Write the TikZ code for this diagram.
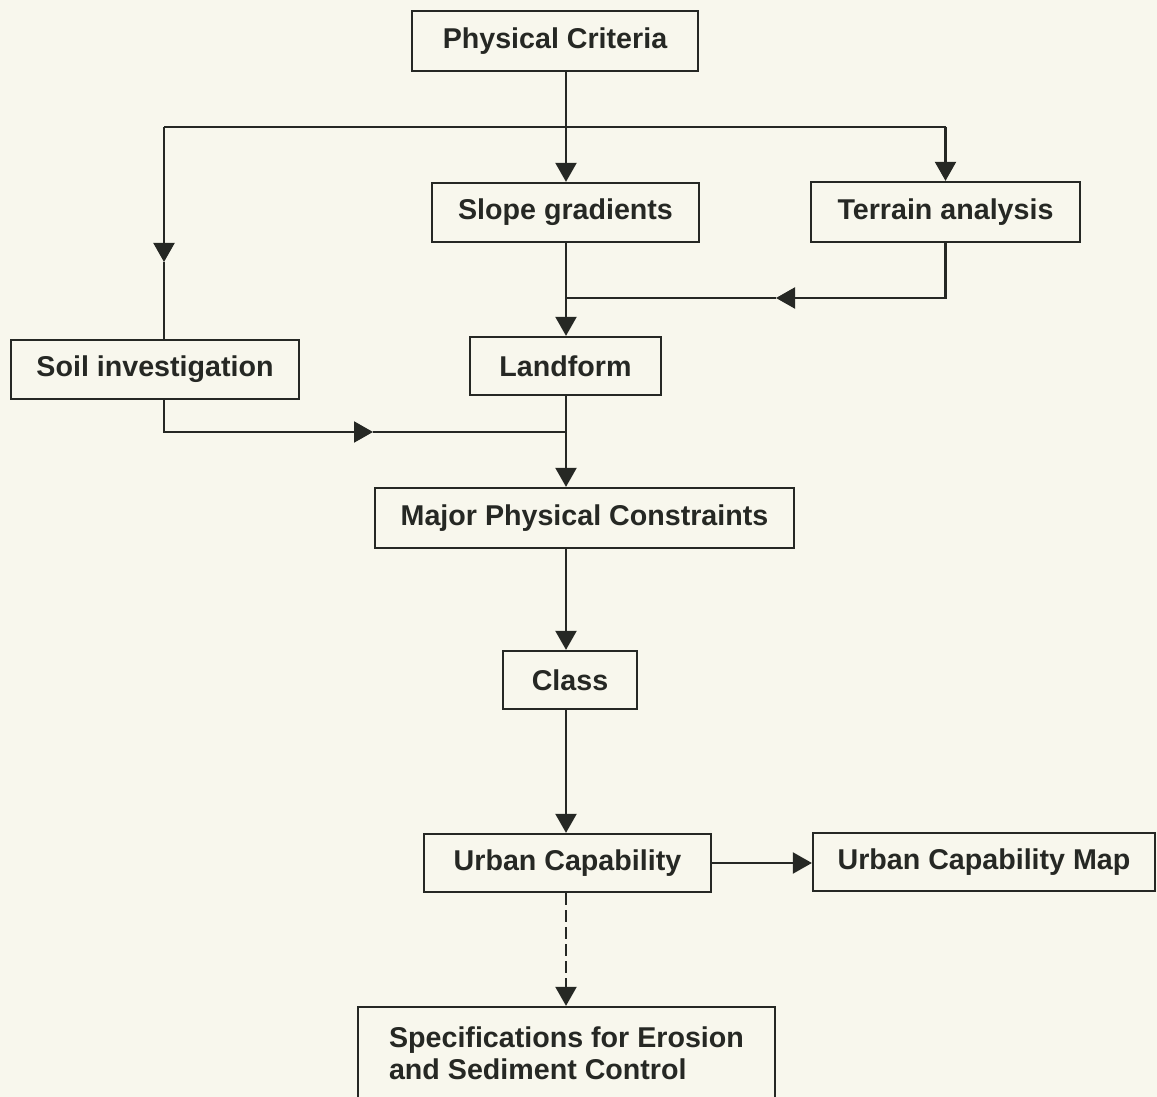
\documentclass[tikz,border=0pt]{standalone}
\usepackage{fontspec}
\setmainfont{Liberation Sans}
\usepackage{tikz}
\usetikzlibrary{positioning,arrows.meta,calc}
\usepackage{xcolor}
\definecolor{paper}{RGB}{248,247,237}
\definecolor{ink}{RGB}{38,40,36}

\begin{document}
\begin{tikzpicture}[x=0.02cm, y=-0.02cm, >={Triangle[length=0.38cm, width=0.42cm]},
    box/.style={draw=ink, line width=1.3pt, text=ink, minimum height=1.16cm,
      inner sep=0pt, font=\bfseries\fontsize{16.3}{18}\selectfont},
    link/.style={draw=ink, line width=1.2pt}]
    % page
    \fill[paper] (0,0) rectangle (1157,1097);
    \clip (0,0) rectangle (1157,1097);

    % boxes
    \node[box, minimum width=5.72cm, minimum height=1.2cm] (crit) at (555,41) {Physical Criteria};
    \node[box, minimum width=5.34cm, minimum height=1.18cm] (slope) at (565.5,212.5) {Slope gradients};
    \node[box, minimum width=5.38cm, minimum height=1.2cm] (terrain) at (945.5,212) {Terrain analysis};
    \node[box, minimum width=5.76cm, minimum height=1.18cm] (soil) at (155,369.5) {Soil investigation};
    \node[box, minimum width=3.82cm] (land) at (565.5,366) {Landform};
    \node[box, minimum width=8.38cm, minimum height=1.2cm] (major) at (584.5,518) {Major Physical Constraints};
    \node[box, minimum width=2.68cm] (class) at (570,680) {Class};
    \node[box, minimum width=5.74cm] (urban) at (567.5,863) {Urban Capability};
    \node[box, minimum width=6.84cm] (map) at (984,862) {Urban Capability Map};
    \node[box, minimum width=8.34cm, minimum height=1.86cm, align=left] (spec) at (566.5,1053.5)
      {Specifications for Erosion\\and Sediment Control};

    % junctions
    \coordinate (spine) at (566,0);
    \coordinate (lsplit) at (164,127);
    \coordinate (rsplit) at (945.5,127);
    \coordinate (lmid) at (164,262);
    \coordinate (tmid) at (776,298);
    \coordinate (tjoin) at (566,298);
    \coordinate (smid) at (373,432);
    \coordinate (sjoin) at (566,432);

    % connectors
    \draw[link, ->] (crit.south -| spine) -- (slope.north -| spine);
    \draw[link] (lsplit) -- (rsplit);
    \draw[link, ->] (rsplit) -- (terrain.north);
    \draw[link, ->] (lsplit) -- (lmid);
    \draw[link] (lmid) -- (soil.north -| lmid);
    \draw[link, ->] (slope.south -| spine) -- (land.north -| spine);
    \draw[link, ->] (terrain.south) |- (tmid);
    \draw[link] (tmid) -- (tjoin);
    \draw[link, ->] (soil.south -| lmid) |- (smid);
    \draw[link] (smid) -- (sjoin);
    \draw[link, ->] (land.south -| spine) -- (major.north -| spine);
    \draw[link, ->] (major.south -| spine) -- (class.north -| spine);
    \draw[link, ->] (class.south -| spine) -- (urban.north -| spine);
    \draw[link, ->] (urban.east) -- (urban.east -| map.west);
    \draw[link, ->, dash pattern=on 0.24cm off 0.1cm] (urban.south -| spine) -- (spec.north -| spine);
\end{tikzpicture}
\end{document}
